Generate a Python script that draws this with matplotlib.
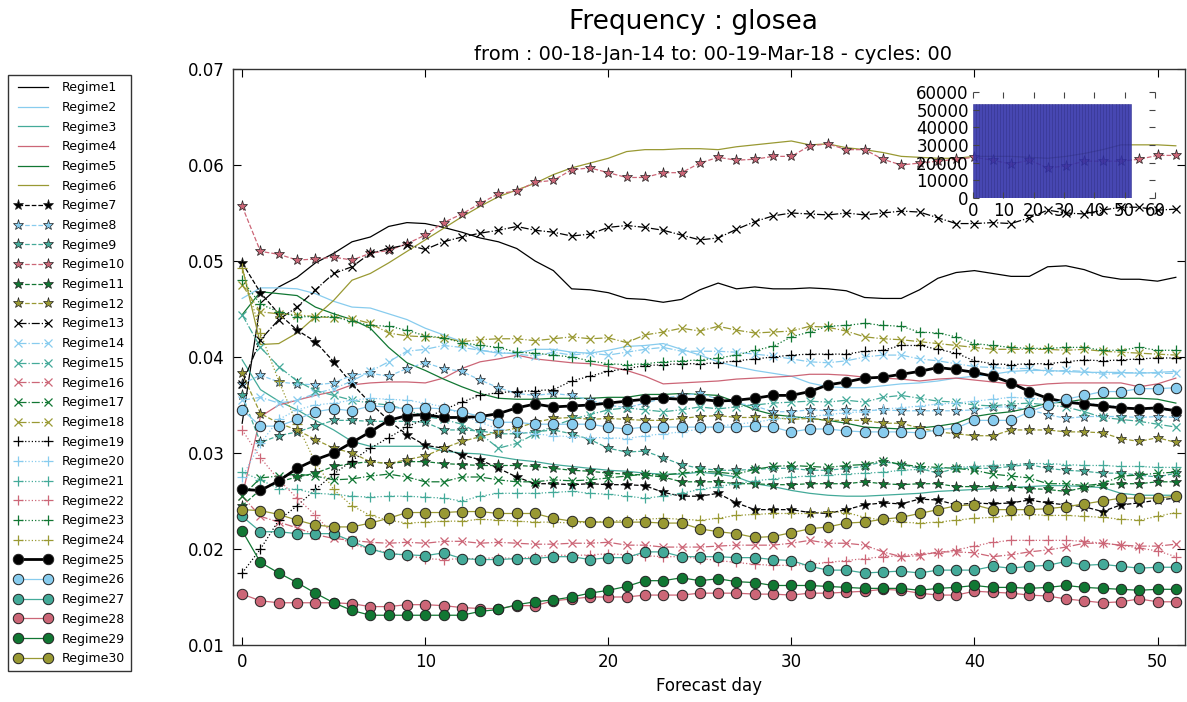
import numpy as np
import matplotlib
matplotlib.use("Agg")
import matplotlib.pyplot as plt

# Daily regime frequencies by forecast day (0..51)
days = list(range(52))

regime1 = [0.0331, 0.0456, 0.0473, 0.0483, 0.0498, 0.0508, 0.0520, 0.0525, 0.0536, 0.0540,
           0.0539, 0.0535, 0.0530, 0.0524, 0.0520, 0.0513, 0.0500, 0.0490, 0.0471, 0.0470,
           0.0467, 0.0461, 0.0460, 0.0457, 0.0460, 0.0470, 0.0477, 0.0471, 0.0473, 0.0471,
           0.0471, 0.0472, 0.0471, 0.0469, 0.0462, 0.0461, 0.0461, 0.0470, 0.0482, 0.0488,
           0.0490, 0.0487, 0.0484, 0.0484, 0.0494, 0.0495, 0.0491, 0.0484, 0.0481, 0.0481,
           0.0479, 0.0483]
regime2 = [0.0461, 0.0472, 0.0472, 0.0471, 0.0466, 0.0458, 0.0452, 0.0451, 0.0445, 0.0439,
           0.0430, 0.0423, 0.0416, 0.0407, 0.0404, 0.0404, 0.0408, 0.0408, 0.0405, 0.0404,
           0.0407, 0.0411, 0.0412, 0.0414, 0.0408, 0.0402, 0.0395, 0.0390, 0.0386, 0.0383,
           0.0380, 0.0373, 0.0369, 0.0368, 0.0368, 0.0370, 0.0372, 0.0373, 0.0375, 0.0378,
           0.0380, 0.0382, 0.0385, 0.0386, 0.0386, 0.0385, 0.0384, 0.0384, 0.0384, 0.0383,
           0.0384, 0.0385]
regime3 = [0.0397, 0.0366, 0.0354, 0.0345, 0.0334, 0.0324, 0.0312, 0.0307, 0.0307, 0.0307,
           0.0307, 0.0302, 0.0300, 0.0299, 0.0296, 0.0293, 0.0291, 0.0288, 0.0286, 0.0284,
           0.0282, 0.0281, 0.0279, 0.0278, 0.0278, 0.0280, 0.0278, 0.0275, 0.0268, 0.0265,
           0.0261, 0.0258, 0.0256, 0.0255, 0.0255, 0.0256, 0.0257, 0.0258, 0.0260, 0.0261,
           0.0262, 0.0263, 0.0264, 0.0265, 0.0266, 0.0266, 0.0265, 0.0264, 0.0258, 0.0256,
           0.0256, 0.0256]
regime4 = [0.0255, 0.0338, 0.0350, 0.0355, 0.0360, 0.0364, 0.0371, 0.0373, 0.0374, 0.0374,
           0.0373, 0.0378, 0.0388, 0.0395, 0.0398, 0.0402, 0.0398, 0.0396, 0.0394, 0.0393,
           0.0390, 0.0386, 0.0380, 0.0372, 0.0373, 0.0374, 0.0375, 0.0377, 0.0378, 0.0379,
           0.0380, 0.0382, 0.0382, 0.0381, 0.0379, 0.0378, 0.0377, 0.0375, 0.0377, 0.0378,
           0.0376, 0.0374, 0.0372, 0.0370, 0.0372, 0.0373, 0.0373, 0.0373, 0.0373, 0.0369,
           0.0372, 0.0378]
regime5 = [0.0444, 0.0468, 0.0466, 0.0464, 0.0452, 0.0445, 0.0439, 0.0430, 0.0410, 0.0394,
           0.0386, 0.0377, 0.0369, 0.0362, 0.0357, 0.0356, 0.0356, 0.0357, 0.0357, 0.0357,
           0.0358, 0.0358, 0.0361, 0.0361, 0.0362, 0.0361, 0.0360, 0.0353, 0.0345, 0.0340,
           0.0338, 0.0336, 0.0334, 0.0331, 0.0327, 0.0326, 0.0325, 0.0326, 0.0328, 0.0331,
           0.0338, 0.0341, 0.0343, 0.0347, 0.0352, 0.0353, 0.0356, 0.0357, 0.0357, 0.0357,
           0.0356, 0.0352]
regime6 = [0.0494, 0.0413, 0.0414, 0.0425, 0.0442, 0.0459, 0.0480, 0.0487, 0.0498, 0.0510,
           0.0522, 0.0534, 0.0546, 0.0557, 0.0567, 0.0574, 0.0581, 0.0590, 0.0597, 0.0602,
           0.0607, 0.0614, 0.0616, 0.0616, 0.0617, 0.0617, 0.0616, 0.0619, 0.0621, 0.0623,
           0.0625, 0.0621, 0.0622, 0.0618, 0.0616, 0.0613, 0.0609, 0.0608, 0.0607, 0.0607,
           0.0609, 0.0609, 0.0609, 0.0608, 0.0607, 0.0609, 0.0612, 0.0616, 0.0621, 0.0621,
           0.0621, 0.0620]
regime7 = [0.0498, 0.0467, 0.0445, 0.0428, 0.0416, 0.0395, 0.0372, 0.0352, 0.0334, 0.0319,
           0.0308, 0.0305, 0.0298, 0.0293, 0.0284, 0.0275, 0.0268, 0.0268, 0.0267, 0.0268,
           0.0267, 0.0267, 0.0266, 0.0259, 0.0255, 0.0255, 0.0258, 0.0248, 0.0241, 0.0241,
           0.0241, 0.0238, 0.0237, 0.0241, 0.0246, 0.0248, 0.0247, 0.0252, 0.0251, 0.0246,
           0.0248, 0.0247, 0.0248, 0.0251, 0.0248, 0.0246, 0.0244, 0.0239, 0.0246, 0.0248,
           0.0251, 0.0253]
regime8 = [0.0372, 0.0381, 0.0374, 0.0372, 0.0371, 0.0373, 0.0381, 0.0383, 0.0380, 0.0388,
           0.0394, 0.0388, 0.0385, 0.0376, 0.0368, 0.0362, 0.0360, 0.0362, 0.0360, 0.0355,
           0.0350, 0.0347, 0.0352, 0.0357, 0.0360, 0.0362, 0.0356, 0.0352, 0.0349, 0.0343,
           0.0343, 0.0345, 0.0344, 0.0345, 0.0344, 0.0345, 0.0344, 0.0344, 0.0344, 0.0344,
           0.0345, 0.0348, 0.0348, 0.0345, 0.0340, 0.0336, 0.0338, 0.0338, 0.0338, 0.0337,
           0.0338, 0.0337]
regime9 = [0.0360, 0.0311, 0.0318, 0.0322, 0.0328, 0.0334, 0.0334, 0.0333, 0.0333, 0.0333,
           0.0332, 0.0324, 0.0324, 0.0323, 0.0320, 0.0320, 0.0322, 0.0324, 0.0320, 0.0314,
           0.0305, 0.0301, 0.0302, 0.0295, 0.0288, 0.0284, 0.0282, 0.0282, 0.0283, 0.0284,
           0.0284, 0.0282, 0.0282, 0.0284, 0.0286, 0.0291, 0.0288, 0.0284, 0.0279, 0.0284,
           0.0284, 0.0284, 0.0286, 0.0288, 0.0284, 0.0282, 0.0281, 0.0279, 0.0279, 0.0277,
           0.0275, 0.0279]
regime10 = [0.0557, 0.0510, 0.0507, 0.0501, 0.0502, 0.0504, 0.0501, 0.0508, 0.0511, 0.0518,
            0.0527, 0.0540, 0.0549, 0.0560, 0.0570, 0.0573, 0.0582, 0.0584, 0.0595, 0.0597,
            0.0592, 0.0587, 0.0587, 0.0592, 0.0592, 0.0602, 0.0608, 0.0605, 0.0606, 0.0609,
            0.0609, 0.0620, 0.0622, 0.0616, 0.0616, 0.0606, 0.0600, 0.0602, 0.0604, 0.0606,
            0.0608, 0.0605, 0.0601, 0.0605, 0.0597, 0.0599, 0.0604, 0.0604, 0.0604, 0.0606,
            0.0610, 0.0610]
regime11 = [0.0245, 0.0262, 0.0270, 0.0275, 0.0279, 0.0286, 0.0289, 0.0291, 0.0289, 0.0291,
            0.0291, 0.0289, 0.0288, 0.0287, 0.0287, 0.0287, 0.0286, 0.0284, 0.0282, 0.0281,
            0.0279, 0.0278, 0.0277, 0.0275, 0.0270, 0.0270, 0.0270, 0.0268, 0.0268, 0.0267,
            0.0267, 0.0268, 0.0268, 0.0268, 0.0270, 0.0268, 0.0267, 0.0268, 0.0268, 0.0265,
            0.0265, 0.0265, 0.0265, 0.0263, 0.0262, 0.0260, 0.0264, 0.0267, 0.0268, 0.0268,
            0.0270, 0.0270]
regime12 = [0.0383, 0.0341, 0.0331, 0.0324, 0.0314, 0.0305, 0.0300, 0.0291, 0.0289, 0.0293,
            0.0297, 0.0305, 0.0312, 0.0317, 0.0322, 0.0326, 0.0332, 0.0336, 0.0337, 0.0335,
            0.0336, 0.0335, 0.0334, 0.0334, 0.0336, 0.0338, 0.0339, 0.0337, 0.0337, 0.0337,
            0.0335, 0.0336, 0.0334, 0.0334, 0.0334, 0.0331, 0.0331, 0.0326, 0.0322, 0.0320,
            0.0318, 0.0318, 0.0324, 0.0324, 0.0324, 0.0322, 0.0322, 0.0321, 0.0315, 0.0312,
            0.0316, 0.0311]
regime13 = [0.0372, 0.0418, 0.0439, 0.0452, 0.0470, 0.0487, 0.0494, 0.0508, 0.0513, 0.0517,
            0.0512, 0.0520, 0.0525, 0.0529, 0.0532, 0.0536, 0.0532, 0.0530, 0.0526, 0.0528,
            0.0535, 0.0537, 0.0535, 0.0532, 0.0527, 0.0522, 0.0524, 0.0533, 0.0541, 0.0547,
            0.0550, 0.0549, 0.0548, 0.0550, 0.0548, 0.0550, 0.0552, 0.0551, 0.0545, 0.0539,
            0.0539, 0.0540, 0.0539, 0.0545, 0.0553, 0.0550, 0.0549, 0.0553, 0.0556, 0.0556,
            0.0553, 0.0554]
regime14 = [0.0355, 0.0358, 0.0352, 0.0355, 0.0362, 0.0367, 0.0375, 0.0385, 0.0395, 0.0406,
            0.0408, 0.0412, 0.0410, 0.0407, 0.0405, 0.0403, 0.0401, 0.0405, 0.0402, 0.0404,
            0.0402, 0.0405, 0.0408, 0.0410, 0.0406, 0.0406, 0.0406, 0.0405, 0.0403, 0.0401,
            0.0398, 0.0395, 0.0394, 0.0396, 0.0400, 0.0402, 0.0402, 0.0398, 0.0396, 0.0393,
            0.0390, 0.0389, 0.0388, 0.0388, 0.0385, 0.0386, 0.0385, 0.0382, 0.0383, 0.0384,
            0.0383, 0.0383]
regime15 = [0.0444, 0.0410, 0.0390, 0.0375, 0.0365, 0.0360, 0.0355, 0.0352, 0.0350, 0.0345,
            0.0338, 0.0335, 0.0330, 0.0320, 0.0305, 0.0310, 0.0320, 0.0328, 0.0335, 0.0340,
            0.0345, 0.0347, 0.0345, 0.0343, 0.0345, 0.0348, 0.0346, 0.0348, 0.0350, 0.0352,
            0.0353, 0.0354, 0.0353, 0.0355, 0.0353, 0.0358, 0.0360, 0.0357, 0.0354, 0.0353,
            0.0350, 0.0349, 0.0351, 0.0352, 0.0350, 0.0348, 0.0343, 0.0337, 0.0335, 0.0333,
            0.0330, 0.0327]
regime16 = [0.0255, 0.0234, 0.0228, 0.0222, 0.0215, 0.0211, 0.0209, 0.0207, 0.0206, 0.0207,
            0.0206, 0.0208, 0.0208, 0.0206, 0.0207, 0.0206, 0.0205, 0.0205, 0.0206, 0.0206,
            0.0207, 0.0204, 0.0204, 0.0202, 0.0202, 0.0202, 0.0203, 0.0204, 0.0204, 0.0204,
            0.0206, 0.0209, 0.0206, 0.0206, 0.0204, 0.0197, 0.0192, 0.0193, 0.0197, 0.0197,
            0.0196, 0.0192, 0.0194, 0.0197, 0.0199, 0.0202, 0.0206, 0.0206, 0.0204, 0.0203,
            0.0203, 0.0205]
regime17 = [0.0255, 0.0274, 0.0276, 0.0278, 0.0276, 0.0272, 0.0273, 0.0276, 0.0278, 0.0275,
            0.0270, 0.0270, 0.0275, 0.0275, 0.0272, 0.0270, 0.0270, 0.0272, 0.0271, 0.0272,
            0.0274, 0.0276, 0.0278, 0.0277, 0.0279, 0.0281, 0.0280, 0.0278, 0.0283, 0.0286,
            0.0287, 0.0286, 0.0285, 0.0287, 0.0288, 0.0292, 0.0288, 0.0286, 0.0285, 0.0284,
            0.0282, 0.0278, 0.0276, 0.0274, 0.0268, 0.0268, 0.0266, 0.0268, 0.0276, 0.0277,
            0.0279, 0.0280]
regime18 = [0.0475, 0.0447, 0.0445, 0.0444, 0.0442, 0.0441, 0.0440, 0.0435, 0.0425, 0.0422,
            0.0421, 0.0420, 0.0416, 0.0418, 0.0419, 0.0419, 0.0417, 0.0419, 0.0421, 0.0419,
            0.0420, 0.0415, 0.0423, 0.0426, 0.0430, 0.0427, 0.0432, 0.0428, 0.0425, 0.0426,
            0.0427, 0.0432, 0.0431, 0.0427, 0.0421, 0.0419, 0.0418, 0.0416, 0.0414, 0.0412,
            0.0410, 0.0408, 0.0408, 0.0408, 0.0408, 0.0407, 0.0408, 0.0406, 0.0405, 0.0404,
            0.0403, 0.0402]
regime19 = [0.0175, 0.0200, 0.0230, 0.0245, 0.0262, 0.0278, 0.0292, 0.0305, 0.0316, 0.0327,
            0.0336, 0.0345, 0.0353, 0.0360, 0.0363, 0.0364, 0.0365, 0.0366, 0.0375, 0.0380,
            0.0385, 0.0388, 0.0391, 0.0392, 0.0393, 0.0393, 0.0394, 0.0396, 0.0398, 0.0400,
            0.0402, 0.0403, 0.0403, 0.0403, 0.0406, 0.0407, 0.0412, 0.0412, 0.0408, 0.0404,
            0.0396, 0.0393, 0.0392, 0.0393, 0.0393, 0.0395, 0.0397, 0.0396, 0.0397, 0.0398,
            0.0399, 0.0399]
regime20 = [0.0275, 0.0310, 0.0335, 0.0345, 0.0350, 0.0352, 0.0355, 0.0357, 0.0356, 0.0355,
            0.0352, 0.0348, 0.0340, 0.0332, 0.0325, 0.0322, 0.0320, 0.0318, 0.0317, 0.0316,
            0.0316, 0.0315, 0.0318, 0.0320, 0.0322, 0.0325, 0.0328, 0.0330, 0.0332, 0.0335,
            0.0337, 0.0338, 0.0340, 0.0342, 0.0343, 0.0346, 0.0347, 0.0349, 0.0351, 0.0352,
            0.0354, 0.0356, 0.0358, 0.0357, 0.0356, 0.0355, 0.0352, 0.0350, 0.0348, 0.0346,
            0.0345, 0.0344]
regime21 = [0.0280, 0.0272, 0.0263, 0.0262, 0.0258, 0.0257, 0.0255, 0.0254, 0.0255, 0.0255,
            0.0254, 0.0253, 0.0250, 0.0255, 0.0258, 0.0258, 0.0258, 0.0259, 0.0260, 0.0258,
            0.0257, 0.0255, 0.0253, 0.0255, 0.0258, 0.0262, 0.0265, 0.0268, 0.0271, 0.0273,
            0.0275, 0.0276, 0.0277, 0.0278, 0.0279, 0.0280, 0.0282, 0.0283, 0.0284, 0.0285,
            0.0286, 0.0287, 0.0288, 0.0289, 0.0289, 0.0288, 0.0287, 0.0287, 0.0286, 0.0286,
            0.0285, 0.0285]
regime22 = [0.0324, 0.0295, 0.0272, 0.0253, 0.0235, 0.0215, 0.0205, 0.0200, 0.0196, 0.0193,
            0.0190, 0.0189, 0.0190, 0.0190, 0.0191, 0.0190, 0.0192, 0.0194, 0.0193, 0.0194,
            0.0195, 0.0194, 0.0193, 0.0192, 0.0192, 0.0190, 0.0188, 0.0186, 0.0184, 0.0183,
            0.0183, 0.0184, 0.0186, 0.0188, 0.0190, 0.0192, 0.0193, 0.0195, 0.0196, 0.0199,
            0.0203, 0.0207, 0.0209, 0.0209, 0.0209, 0.0209, 0.0208, 0.0206, 0.0204, 0.0201,
            0.0198, 0.0192]
regime23 = [0.0480, 0.0455, 0.0447, 0.0442, 0.0442, 0.0442, 0.0437, 0.0433, 0.0432, 0.0428,
            0.0422, 0.0420, 0.0415, 0.0412, 0.0410, 0.0405, 0.0404, 0.0402, 0.0400, 0.0396,
            0.0393, 0.0392, 0.0393, 0.0395, 0.0396, 0.0397, 0.0399, 0.0402, 0.0407, 0.0411,
            0.0421, 0.0426, 0.0432, 0.0433, 0.0435, 0.0433, 0.0432, 0.0426, 0.0425, 0.0421,
            0.0414, 0.0412, 0.0410, 0.0409, 0.0409, 0.0410, 0.0410, 0.0407, 0.0407, 0.0410,
            0.0407, 0.0407]
regime24 = [0.0493, 0.0425, 0.0375, 0.0330, 0.0290, 0.0262, 0.0245, 0.0235, 0.0230, 0.0227,
            0.0228, 0.0229, 0.0229, 0.0231, 0.0230, 0.0229, 0.0228, 0.0228, 0.0227, 0.0228,
            0.0229, 0.0230, 0.0231, 0.0232, 0.0231, 0.0230, 0.0232, 0.0235, 0.0236, 0.0237,
            0.0237, 0.0237, 0.0239, 0.0238, 0.0233, 0.0230, 0.0228, 0.0227, 0.0228, 0.0230,
            0.0232, 0.0233, 0.0235, 0.0236, 0.0235, 0.0235, 0.0234, 0.0233, 0.0231, 0.0230,
            0.0234, 0.0238]
regime25 = [0.0262, 0.0261, 0.0271, 0.0284, 0.0293, 0.0300, 0.0311, 0.0322, 0.0334, 0.0339,
            0.0340, 0.0337, 0.0337, 0.0338, 0.0341, 0.0347, 0.0351, 0.0348, 0.0349, 0.0350,
            0.0352, 0.0354, 0.0356, 0.0357, 0.0356, 0.0356, 0.0354, 0.0355, 0.0357, 0.0360,
            0.0360, 0.0364, 0.0371, 0.0374, 0.0378, 0.0379, 0.0382, 0.0385, 0.0389, 0.0387,
            0.0384, 0.0380, 0.0373, 0.0364, 0.0357, 0.0353, 0.0351, 0.0349, 0.0347, 0.0346,
            0.0347, 0.0344]
regime26 = [0.0345, 0.0328, 0.0328, 0.0335, 0.0343, 0.0346, 0.0344, 0.0349, 0.0348, 0.0346,
            0.0347, 0.0346, 0.0343, 0.0338, 0.0332, 0.0332, 0.0330, 0.0330, 0.0330, 0.0330,
            0.0327, 0.0325, 0.0327, 0.0327, 0.0327, 0.0327, 0.0327, 0.0327, 0.0328, 0.0327,
            0.0322, 0.0325, 0.0325, 0.0323, 0.0322, 0.0322, 0.0322, 0.0321, 0.0324, 0.0326,
            0.0334, 0.0334, 0.0334, 0.0343, 0.0350, 0.0356, 0.0360, 0.0364, 0.0364, 0.0367,
            0.0367, 0.0368]
regime27 = [0.0234, 0.0218, 0.0218, 0.0216, 0.0216, 0.0216, 0.0208, 0.0200, 0.0195, 0.0194,
            0.0193, 0.0196, 0.0190, 0.0189, 0.0189, 0.0190, 0.0190, 0.0192, 0.0192, 0.0189,
            0.0191, 0.0191, 0.0197, 0.0197, 0.0192, 0.0192, 0.0192, 0.0191, 0.0191, 0.0189,
            0.0188, 0.0182, 0.0178, 0.0178, 0.0175, 0.0176, 0.0177, 0.0175, 0.0178, 0.0178,
            0.0178, 0.0182, 0.0180, 0.0182, 0.0183, 0.0187, 0.0183, 0.0184, 0.0182, 0.0180,
            0.0181, 0.0181]
regime28 = [0.0153, 0.0146, 0.0144, 0.0144, 0.0144, 0.0144, 0.0143, 0.0140, 0.0140, 0.0142,
            0.0142, 0.0141, 0.0139, 0.0138, 0.0138, 0.0141, 0.0141, 0.0146, 0.0148, 0.0150,
            0.0150, 0.0150, 0.0152, 0.0152, 0.0152, 0.0154, 0.0154, 0.0154, 0.0153, 0.0153,
            0.0152, 0.0154, 0.0154, 0.0155, 0.0156, 0.0158, 0.0157, 0.0154, 0.0152, 0.0152,
            0.0156, 0.0155, 0.0154, 0.0152, 0.0151, 0.0148, 0.0146, 0.0144, 0.0145, 0.0148,
            0.0145, 0.0145]
regime29 = [0.0219, 0.0186, 0.0175, 0.0165, 0.0154, 0.0144, 0.0136, 0.0131, 0.0131, 0.0131,
            0.0131, 0.0131, 0.0131, 0.0135, 0.0137, 0.0142, 0.0145, 0.0147, 0.0150, 0.0154,
            0.0157, 0.0161, 0.0167, 0.0167, 0.0170, 0.0167, 0.0169, 0.0166, 0.0165, 0.0162,
            0.0162, 0.0162, 0.0161, 0.0160, 0.0159, 0.0159, 0.0159, 0.0157, 0.0159, 0.0160,
            0.0162, 0.0160, 0.0160, 0.0159, 0.0160, 0.0162, 0.0160, 0.0159, 0.0158, 0.0157,
            0.0158, 0.0158]
regime30 = [0.0241, 0.0240, 0.0236, 0.0230, 0.0225, 0.0223, 0.0223, 0.0227, 0.0232, 0.0238,
            0.0238, 0.0238, 0.0239, 0.0239, 0.0237, 0.0237, 0.0237, 0.0232, 0.0229, 0.0228,
            0.0228, 0.0228, 0.0228, 0.0227, 0.0227, 0.0221, 0.0218, 0.0216, 0.0212, 0.0213,
            0.0217, 0.0221, 0.0223, 0.0227, 0.0228, 0.0231, 0.0233, 0.0237, 0.0241, 0.0245,
            0.0246, 0.0241, 0.0241, 0.0241, 0.0242, 0.0244, 0.0247, 0.0250, 0.0253, 0.0253,
            0.0253, 0.0255]

regimes = [regime1, regime2, regime3, regime4, regime5, regime6,
           regime7, regime8, regime9, regime10, regime11, regime12,
           regime13, regime14, regime15, regime16, regime17, regime18,
           regime19, regime20, regime21, regime22, regime23, regime24,
           regime25, regime26, regime27, regime28, regime29, regime30]

# number of forecasts available for each lead day (inset histogram)
day_counts = [53300, 53300, 53300, 53300, 53300, 53300, 53300, 53300, 53300, 53300,
              53300, 53300, 53300, 53300, 53300, 53300, 53300, 53300, 53300, 53300,
              53300, 53300, 53300, 53300, 53300, 53300, 53300, 53300, 53300, 53300,
              53300, 53300, 53300, 53300, 53300, 53300, 53300, 53300, 53300, 53300,
              53300, 53300, 53300, 53300, 53300, 53300, 53300, 53300, 53300, 53300,
              53300, 53300]

colours = ['#000000', '#88CCEE', '#44AA99', '#CC6677', '#117733', '#999933']

# one style per group of six regimes: (linestyle, marker)
styles = [('-', None), ('--', '*'), ('-.', 'x'), (':', '+'), ('-', 'o')]

fig = plt.figure(figsize=(11.87, 7.02), dpi=100)
ax = fig.add_axes([0.1963, 0.0812, 0.8020, 0.8205])

handles = []
for i, vals in enumerate(regimes):
    ls, mk = styles[i // 6]
    col = colours[i % 6]
    kw = dict(color=col, linestyle=ls, linewidth=0.9, label='Regime%d' % (i + 1))
    if mk == '*':
        kw.update(marker='*', markersize=8, markerfacecolor=col,
                  markeredgecolor='#222222', markeredgewidth=0.5)
    elif mk == 'x':
        kw.update(marker='x', markersize=6, markeredgewidth=0.9)
    elif mk == '+':
        kw.update(marker='+', markersize=7, markeredgewidth=0.9)
    elif mk == 'o':
        kw.update(marker='o', markersize=7.5, markerfacecolor=col,
                  markeredgecolor='#222222', markeredgewidth=0.7)
        if i == 24:
            kw['linewidth'] = 2.0
    h, = ax.plot(range(len(vals)), vals, **kw)
    handles.append(h)

ax.set_xlim(-0.5, 51.5)
ax.set_ylim(0.01, 0.07)
ax.set_xticks([0, 10, 20, 30, 40, 50])
ax.set_yticks([0.01, 0.02, 0.03, 0.04, 0.05, 0.06, 0.07])
ax.yaxis.set_major_formatter(matplotlib.ticker.FormatStrFormatter('%.2f'))
ax.tick_params(direction='in', top=True, right=True, length=6, labelsize=12, pad=6)
for s in ax.spines.values():
    s.set_color('#333333')
    s.set_linewidth(1.0)
ax.set_xlabel('Forecast day', fontsize=12, labelpad=4)

fig.text(0.584, 0.969, 'Frequency : glosea', ha='center', va='center', fontsize=19)
fig.text(0.601, 0.922, 'from : 00-18-Jan-14 to: 00-19-Mar-18 - cycles: 00',
         ha='center', va='center', fontsize=14)

leg = fig.legend(handles=handles, loc='upper left', bbox_to_anchor=(8 / 1187, 1 - 75 / 702),
                 borderaxespad=0, fontsize=9, numpoints=2, handlelength=3.0,
                 handletextpad=0.8, labelspacing=0.535, borderpad=0.5,
                 fancybox=False, framealpha=1)
leg.get_frame().set_edgecolor('#333333')
leg.get_frame().set_linewidth(1.0)

# inset: sample size per lead day
axin = fig.add_axes([0.8197, 0.718, 0.1533, 0.151])
axin.bar(days, day_counts, width=1.0, align='edge', color='#3333aa',
         edgecolor='#2a2a8c', linewidth=0.4, alpha=0.9)
axin.set_xlim(0, 60)
axin.set_ylim(0, 60000)
axin.set_xticks([0, 10, 20, 30, 40, 50, 60])
axin.set_yticks([0, 10000, 20000, 30000, 40000, 50000, 60000])
axin.patch.set_visible(False)
for s in axin.spines.values():
    s.set_visible(False)
axin.tick_params(direction='in', top=True, right=True, length=4, labelsize=12,
                 pad=3, color='#444444')

fig.savefig('out.png', dpi=100)
